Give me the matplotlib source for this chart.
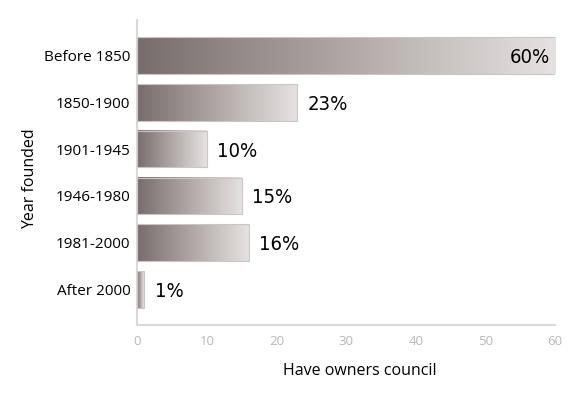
import numpy as np
import matplotlib.pyplot as plt
from matplotlib.colors import LinearSegmentedColormap
from matplotlib.patches import Rectangle

# Data
categories = ['Before 1850', '1850-1900', '1901-1945', '1946-1980', '1981-2000', 'After 2000']
values = [60, 23, 10, 15, 16, 1]
value_labels = ['60%', '23%', '10%', '15%', '16%', '1%']
x_ticks = [0, 10, 20, 30, 40, 50, 60]

plt.rcParams['font.family'] = ['Open Sans', 'DejaVu Sans']

cmap = LinearSegmentedColormap.from_list('bar_grad', ['#776d6c', '#b0a8a7', '#e6e2e1'])
grad = np.linspace(0, 1, 256).reshape(1, -1)

fig = plt.figure(figsize=(5.79, 3.94), dpi=100)
ax = fig.add_axes([0.237, 0.175, 0.722, 0.774])

bar_h = 0.78
for i, (v, lab) in enumerate(zip(values, value_labels)):
    y0 = i - bar_h / 2
    ax.imshow(grad, cmap=cmap, aspect='auto', extent=[0, v, i + bar_h / 2, y0],
              interpolation='bilinear', zorder=2)
    ax.add_patch(Rectangle((0, y0), v, bar_h, fill=False, edgecolor='#cbc5c4',
                           linewidth=0.8, zorder=3))
    kw = dict(va='center', fontsize=14.5, family='DejaVu Sans', stretch='condensed',
              color='black', zorder=4)
    if v >= 50:
        ax.text(v - 0.8, i + 0.04, lab, ha='right', **kw)
    else:
        ax.text(v + 1.5, i + 0.04, lab, ha='left', **kw)

ax.set_xlim(0, 60)
ax.set_ylim(5.76, -0.76)
ax.set_yticks(range(len(categories)))
ax.set_yticklabels(categories, fontsize=11)
ax.set_xticks(x_ticks)
ax.set_xticklabels([str(t) for t in x_ticks], fontsize=9.5, color='#b8b8b8')
ax.tick_params(axis='both', length=0)
ax.tick_params(axis='y', pad=5)
ax.tick_params(axis='x', pad=7)

for s in ['top', 'right']:
    ax.spines[s].set_visible(False)
for s in ['left', 'bottom']:
    ax.spines[s].set_color('#d9d9d9')
    ax.spines[s].set_linewidth(1.5)

ax.set_xlabel('Have owners council', fontsize=11.5)
ax.xaxis.set_label_coords(0.533, -0.125)
ax.set_ylabel('Year founded', fontsize=11.5)
ax.yaxis.set_label_coords(-0.237, 0.48)

fig.savefig('out.png', dpi=100)
